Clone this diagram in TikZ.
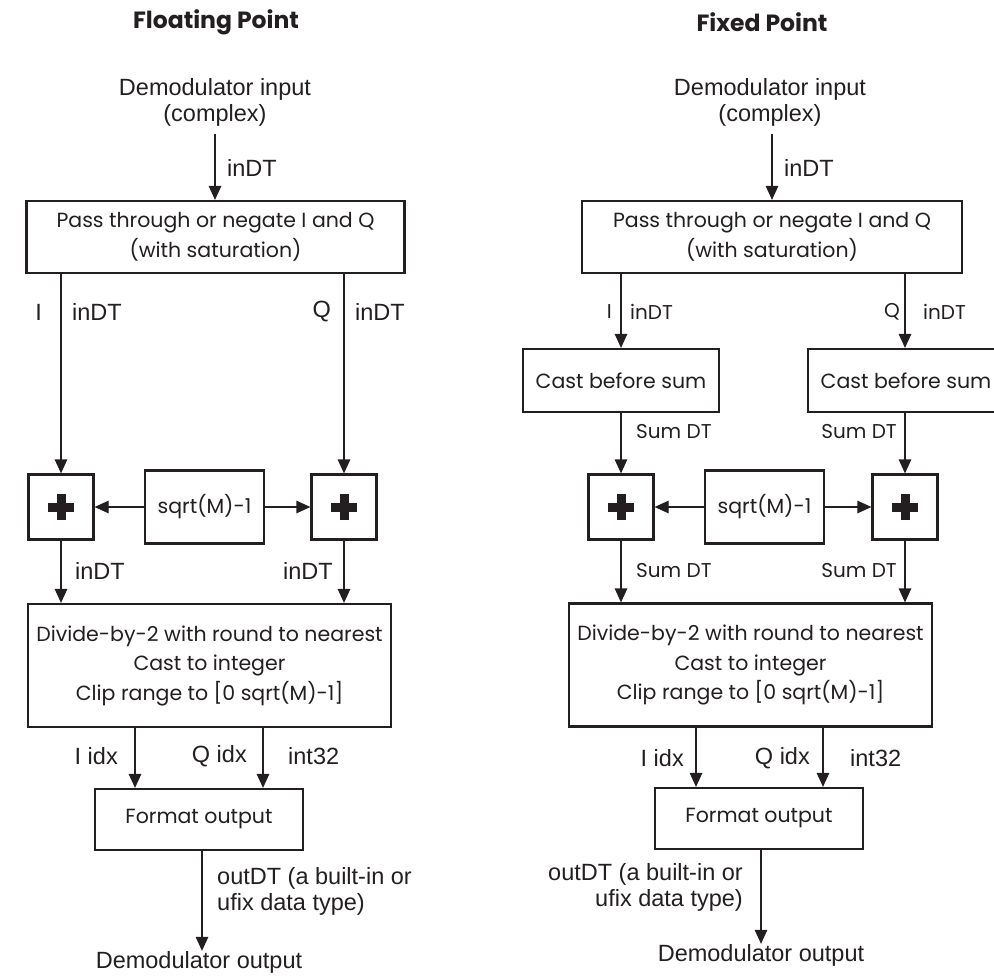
\documentclass[tikz,border=0pt]{standalone}
\usepackage{fontspec}
\setmainfont{Liberation Sans}
\newfontfamily\futfont{Poppins}
\usepackage{tikz}
\usetikzlibrary{arrows.meta, positioning}
\definecolor{ink}{RGB}{35,31,32}

\begin{document}
\begin{tikzpicture}[
  x=1pt, y=-1pt,
  blk/.style={draw=ink, line width=2.2pt, fill=white, align=center, inner sep=0pt,
              font=\futfont\fontsize{20.5}{29.5}\selectfont, text=ink},
  addbox/.style={blk, minimum width=65pt, minimum height=65pt},
  lbl/.style={font=\fontsize{23.5}{26}\selectfont, text=ink, inner sep=0pt},
  flbl/.style={font=\futfont\fontsize{20}{24}\selectfont, text=ink, inner sep=0pt},
  ttl/.style={font=\futfont\bfseries\fontsize{23.5}{26}\selectfont, text=ink},
  arr/.style={-{Triangle[length=14pt,width=12.5pt]}, line width=1.2pt, draw=ink},
]
\useasboundingbox (0,0) rectangle (994,978);
\clip (0,0) rectangle (994,978);

% Floating point (links)
\node[ttl] (ttlFL) at (216,22) {Floating Point};
\node[lbl, align=center] (inFL) at (215,102) {Demodulator input\\(complex)};
\node[blk, minimum width=378pt, minimum height=72pt] (bx1FL) at (215.5,237) {Pass through or negate I and Q\\(with saturation)};
\node[addbox] (addFLa) at (61,507) {};
\node[addbox] (addFLb) at (344,507) {};
\node[blk, minimum width=119pt, minimum height=73pt] (sqFL) at (204.5,507) {sqrt(M)-1};
\node[blk, minimum width=363pt, minimum height=123pt] (bx2FL) at (209.5,665.5) {Divide-by-2 with round to nearest\\Cast to integer\\Clip range to [0 sqrt(M)-1]};
\node[blk, minimum width=208pt, minimum height=61pt] (fmtFL) at (199,819.5) {Format output};
\node[lbl] (outFL) at (199,962) {Demodulator output};

% Fixed point (rechts)
\node[ttl] (ttlXP) at (762,22) {Fixed Point};
\node[lbl, align=center] (inXP) at (770,102) {Demodulator input\\(complex)};
\node[blk, minimum width=380pt, minimum height=72pt] (bx1XP) at (772,237) {Pass through or negate I and Q\\(with saturation)};
\node[blk, minimum width=196pt, minimum height=63pt] (castXPa) at (621,380.5) {Cast before sum};
\node[blk, minimum width=196pt, minimum height=63pt] (castXPb) at (906,380.5) {Cast before sum};
\node[addbox] (addXPa) at (621,507) {};
\node[addbox] (addXPb) at (905,507) {};
\node[blk, minimum width=119pt, minimum height=73pt] (sqXP) at (764.5,507) {sqrt(M)-1};
\node[blk, minimum width=363pt, minimum height=123pt] (bx2XP) at (750.5,665) {Divide-by-2 with round to nearest\\Cast to integer\\Clip range to [0 sqrt(M)-1]};
\node[blk, minimum width=208pt, minimum height=61pt] (fmtXP) at (759,818.5) {Format output};
\node[lbl] (outXP) at (761,955) {Demodulator output};

% Plus-Zeichen
\foreach \n in {addFLa,addFLb,addXPa,addXPb} {
  \fill[ink] ([xshift=-13pt,yshift=-4.5pt]\n.center) rectangle ([xshift=13pt,yshift=4.5pt]\n.center);
  \fill[ink] ([xshift=-4.5pt,yshift=-13pt]\n.center) rectangle ([xshift=4.5pt,yshift=13pt]\n.center);
}

% Pfeile links
\draw[arr] (inFL.south) ++(0,8) coordinate (srcFL) -- (srcFL |- bx1FL.north);
\draw[arr] (addFLa |- bx1FL.south) -- (addFLa.north);
\draw[arr] (addFLb |- bx1FL.south) -- (addFLb.north);
\draw[arr] (sqFL.west) -- (addFLa.east);
\draw[arr] (sqFL.east) -- (addFLb.west);
\draw[arr] (addFLa.south) -- (addFLa.south |- bx2FL.north);
\draw[arr] (addFLb.south) -- (addFLb.south |- bx2FL.north);
\draw[arr] (bx2FL.south -| 135,0) -- (fmtFL.north -| 135,0);
\draw[arr] (bx2FL.south -| 263,0) -- (fmtFL.north -| 263,0);
\draw[arr] (fmtFL.south -| 202,0) -- (outFL.north -| 202,0);

% Pfeile rechts
\draw[arr] (inXP.south -| 772,0) ++(0,8) coordinate (srcXP) -- (srcXP |- bx1XP.north);
\draw[arr] (castXPa |- bx1XP.south) -- (castXPa.north);
\draw[arr] (castXPb.north -| addXPb) ++(0,-76) coordinate (srcQ) -- (castXPb.north -| addXPb);
\draw[arr] (castXPa.south) -- (addXPa.north);
\draw[arr] (castXPb.south -| addXPb) -- (addXPb.north);
\draw[arr] (sqXP.west) -- (addXPa.east);
\draw[arr] (sqXP.east) -- (addXPb.west);
\draw[arr] (addXPa.south) -- (addXPa.south |- bx2XP.north);
\draw[arr] (addXPb.south) -- (addXPb.south |- bx2XP.north);
\draw[arr] (bx2XP.south -| 696,0) -- (fmtXP.north -| 696,0);
\draw[arr] (bx2XP.south -| 823,0) -- (fmtXP.north -| 823,0);
\draw[arr] (fmtXP.south -| 761,0) -- (outXP.north -| 761,0);

% Beschriftungen links
\node[lbl, anchor=west] (lInFL) at (227,168) {inDT};
\node[lbl, anchor=east] (lIFL) at (42,312) {I};
\node[lbl, anchor=west] (lIdtFL) at (72,312) {inDT};
\node[lbl, anchor=east] (lQFL) at (331,312) {Q};
\node[lbl, anchor=west] (lQdtFL) at (355,312) {inDT};
\node[lbl, anchor=west] (lSaFL) at (75,571) {inDT};
\node[lbl, anchor=east] (lSbFL) at (333,571) {inDT};
\node[lbl, anchor=east] (lIxFL) at (118,756) {I idx};
\node[lbl, anchor=east] (lQxFL) at (247,756) {Q idx};
\node[lbl, anchor=west] (lIntFL) at (288,756) {int32};
\node[lbl, anchor=west, align=left] (lOutFL) at (217,891) {outDT (a built-in or\\ufix data type)};

% Beschriftungen rechts
\node[lbl, anchor=west] (lInXP) at (784,168) {inDT};
\node[flbl, anchor=east] (lIXP) at (612,312) {I};
\node[flbl, anchor=west] (lIdtXP) at (630,312) {inDT};
\node[flbl, anchor=east] (lQXP) at (900,312) {Q};
\node[flbl, anchor=west] (lQdtXP) at (923,312) {inDT};
\node[flbl, anchor=west] (lSaXP) at (636,432) {Sum DT};
\node[flbl, anchor=east] (lSbXP) at (897,432) {Sum DT};
\node[flbl, anchor=west] (lScXP) at (636,571) {Sum DT};
\node[flbl, anchor=east] (lSdXP) at (897,571) {Sum DT};
\node[lbl, anchor=east] (lIxXP) at (684,758) {I idx};
\node[lbl, anchor=east] (lQxXP) at (810,758) {Q idx};
\node[lbl, anchor=west] (lIntXP) at (850,758) {int32};
\node[lbl, anchor=east, align=right] (lOutXP) at (743,887) {outDT (a built-in or\\ufix data type)};

\end{tikzpicture}
\end{document}
